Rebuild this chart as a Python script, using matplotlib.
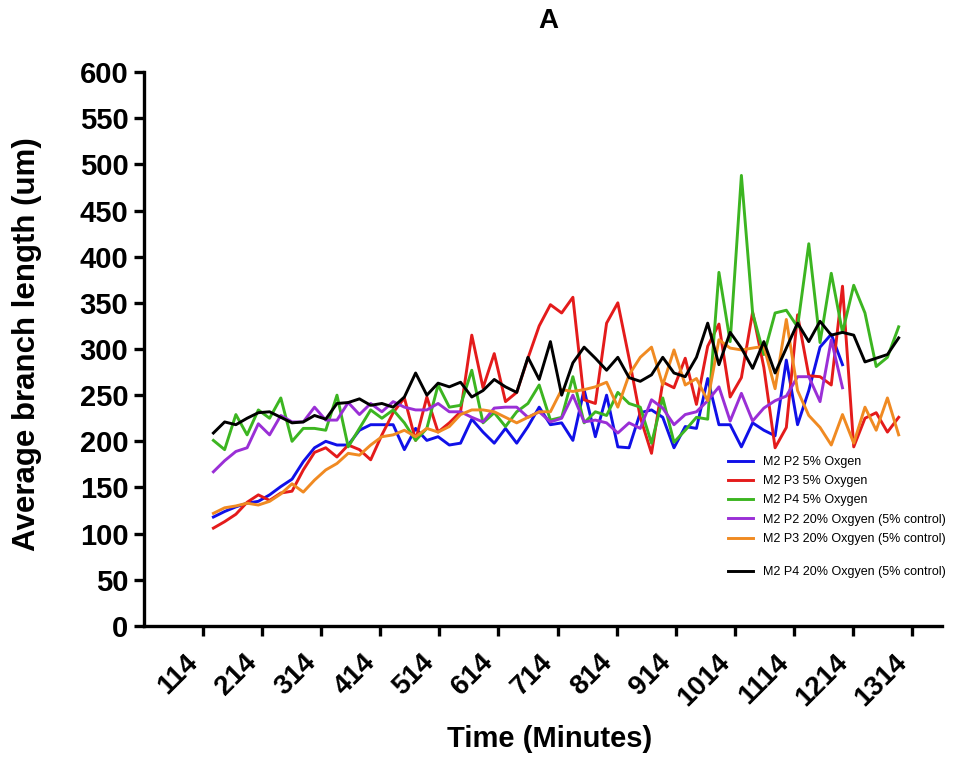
import matplotlib.pyplot as plt

plt.rcParams['font.family'] = ['Liberation Sans', 'DejaVu Sans']

# sampling times (minutes)
minutes = list(range(132, 1292, 19))

p2_5 = [118, 124, 129, 133, 135, 142, 151, 159, 178, 193,
        200, 196, 196, 212, 218, 218, 218, 191, 214, 201,
        205, 196, 198, 224, 210, 198, 214, 198, 216, 237,
        218, 220, 201, 256, 205, 250, 194, 193, 231, 234,
        226, 193, 216, 214, 268, 218, 218, 194, 220, 212,
        206, 288, 218, 255, 302, 316, 283]

p3_5 = [106, 113, 121, 134, 142, 136, 144, 146, 169, 188,
        193, 183, 196, 191, 180, 207, 231, 247, 201, 248,
        210, 220, 232, 315, 258, 295, 243, 253, 290, 325,
        348, 339, 356, 245, 241, 328, 350, 290, 226, 187,
        264, 258, 290, 240, 303, 327, 248, 269, 340, 280,
        193, 215, 337, 271, 270, 261, 368, 194, 225, 231,
        210, 226]

p4_5 = [201, 191, 229, 207, 234, 225, 247, 200, 214, 214,
        212, 250, 194, 214, 234, 225, 234, 220, 201, 214,
        261, 237, 239, 277, 220, 231, 216, 232, 241, 261,
        223, 226, 270, 220, 232, 228, 253, 241, 237, 198,
        247, 199, 212, 226, 224, 383, 308, 488, 339, 294,
        339, 342, 324, 414, 307, 382, 318, 369, 339, 281,
        291, 324]

p2_20 = [167, 179, 189, 193, 219, 207, 228, 221, 221, 237,
         223, 223, 242, 229, 241, 232, 243, 237, 234, 234,
         241, 232, 232, 226, 221, 236, 237, 237, 226, 232,
         221, 225, 250, 221, 223, 220, 209, 220, 214, 245,
         236, 218, 229, 232, 244, 259, 222, 252, 222, 236,
         244, 249, 270, 270, 243, 310, 258]

p3_20 = [122, 128, 130, 133, 131, 135, 143, 154, 145, 158,
         169, 176, 187, 185, 196, 205, 207, 212, 205, 214,
         210, 216, 229, 234, 234, 232, 226, 220, 226, 232,
         232, 256, 254, 256, 259, 264, 237, 272, 291, 302,
         261, 299, 261, 268, 244, 310, 301, 299, 301, 303,
         257, 332, 255, 228, 215, 196, 229, 198, 237, 212,
         247, 207]

p4_20 = [209, 221, 218, 225, 231, 232, 226, 220, 221, 228,
         224, 241, 242, 246, 239, 241, 237, 248, 274, 250,
         263, 259, 264, 248, 255, 267, 259, 253, 291, 267,
         308, 250, 285, 302, 290, 277, 291, 269, 265, 272,
         291, 274, 270, 291, 328, 283, 318, 301, 279, 308,
         274, 301, 328, 308, 330, 315, 318, 315, 286, 290,
         294, 312]

series = [
    (p2_5, '#1010e8', 'M2 P2 5% Oxgen'),
    (p3_5, '#e41b1b', 'M2 P3 5% Oxygen'),
    (p4_5, '#3cb521', 'M2 P4 5% Oxygen'),
    (p2_20, '#9a2fd6', 'M2 P2 20% Oxgyen (5% control)'),
    (p3_20, '#f08a22', 'M2 P3 20% Oxgyen (5% control)'),
    (p4_20, '#000000', 'M2 P4 20% Oxgyen (5% control)'),
]

tick_minutes = list(range(114, 1315, 100))

fig = plt.figure(figsize=(9.64, 7.62), dpi=100)
ax = fig.add_axes([0.149, 0.1785, 0.828, 0.727])

lines = []
for vals, col, lab in series:
    ln, = ax.plot(minutes[:len(vals)], vals, color=col, lw=2.1, label=lab)
    lines.append(ln)

ax.set_xlim(14, 1364)
ax.set_ylim(0, 600)
ax.set_yticks(range(0, 601, 50))
ax.set_xticks(tick_minutes)
ax.set_xticklabels([str(t) for t in tick_minutes], rotation=45,
                   ha='right', va='top', fontsize=20, fontweight='bold')
for lbl in ax.get_yticklabels():
    lbl.set_fontsize(21)
    lbl.set_fontweight('bold')

for side in ['top', 'right']:
    ax.spines[side].set_visible(False)
for side in ['left', 'bottom']:
    ax.spines[side].set_linewidth(2.4)
ax.tick_params(axis='both', width=2.4, length=7, pad=4)
ax.tick_params(axis='x', pad=10)

fig.text(0.028, 0.549, 'Average branch length (um)', rotation=90,
         ha='center', va='center', fontsize=22.5, fontweight='bold')
fig.text(0.57, 0.03, 'Time (Minutes)', ha='center', va='center',
         fontsize=21, fontweight='bold')
fig.text(0.569, 0.972, 'A', ha='center', va='center',
         fontsize=20, fontweight='bold')

# legend: first five rows together, last row set a little apart
leg_kw = dict(loc='upper left', frameon=False, fontsize=9,
              handlelength=2.0, handletextpad=0.8, labelspacing=0.58,
              borderpad=0, borderaxespad=0)
leg1 = ax.legend(handles=lines[:5], bbox_to_anchor=(0.732, 0.307), **leg_kw)
ax.add_artist(leg1)
ax.legend(handles=lines[5:], bbox_to_anchor=(0.732, 0.108), **leg_kw)

fig.savefig('out.png', dpi=100)
